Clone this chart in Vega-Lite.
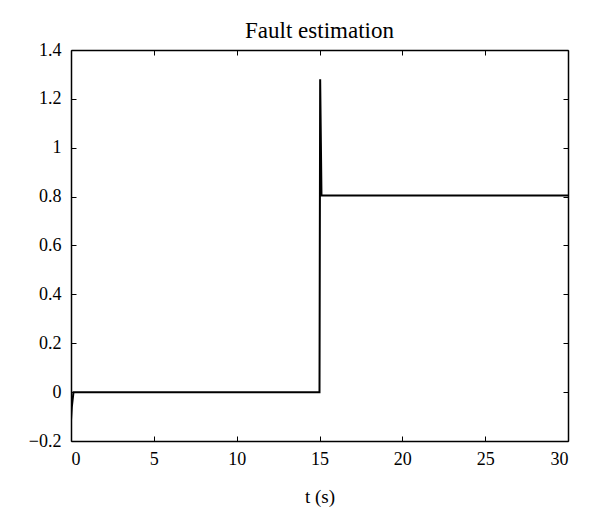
{
  "$schema": "https://vega.github.io/schema/vega-lite/v6.json",
  "width": 497,
  "height": 391,
  "autosize": "none",
  "padding": {"left": 71, "top": 50, "right": 32, "bottom": 89},
  "background": "white",
  "config": {
    "font": "Liberation Serif",
    "view": {"stroke": null}
  },
  "title": {
    "text": "Fault estimation",
    "font": "Liberation Serif",
    "fontSize": 23,
    "fontWeight": "normal",
    "color": "black",
    "offset": -2
  },
  "data": {
    "values": [
      {"t": 0, "v": -0.115},
      {"t": 0.05, "v": -0.06},
      {"t": 0.15, "v": 0},
      {"t": 15, "v": 0},
      {"t": 15.04, "v": 1.28},
      {"t": 15.12, "v": 0.805},
      {"t": 30, "v": 0.805}
    ]
  },
  "layer": [
    {
      "mark": {"type": "line", "color": "black", "strokeWidth": 2, "clip": true},
      "encoding": {
        "x": {
          "field": "t", "type": "quantitative",
          "scale": {"domain": [0, 30], "nice": false, "zero": false},
          "axis": {"orient": "bottom", "values": [0, 5, 10, 15, 20, 25, 30], "title": "t (s)",
            "grid": false, "domainColor": "black", "domainWidth": 1.5, "tickColor": "black", "tickWidth": 1, "tickSize": -5,
            "labelColor": "black", "labelFont": "Times New Roman", "labelFontSize": 18, "labelPadding": 14,
            "titleFont": "Times New Roman", "titleFontSize": 19, "titleFontWeight": "normal", "titleColor": "black", "titlePadding": 19}
        },
        "y": {
          "field": "v", "type": "quantitative",
          "scale": {"domain": [-0.2, 1.4], "nice": false, "zero": false},
          "axis": {"orient": "left", "values": [-0.2, 0, 0.2, 0.4, 0.6, 0.8, 1, 1.2, 1.4], "title": null, "format": "~g",
            "grid": false, "domainColor": "black", "domainWidth": 1.5, "tickColor": "black", "tickWidth": 1, "tickSize": -5,
            "labelColor": "black", "labelFont": "Times New Roman", "labelFontSize": 18, "labelPadding": 15}
        }
      }
    },
    {
      "mark": {"type": "line", "opacity": 0},
      "encoding": {
        "x": {
          "field": "t", "type": "quantitative",
          "scale": {"domain": [0, 30], "nice": false, "zero": false},
          "axis": {"orient": "top", "values": [0, 5, 10, 15, 20, 25, 30], "labels": false, "title": null,
            "grid": false, "domainColor": "black", "domainWidth": 1.5, "tickColor": "black", "tickWidth": 1, "tickSize": -5}
        },
        "y": {
          "field": "v", "type": "quantitative",
          "scale": {"domain": [-0.2, 1.4], "nice": false, "zero": false},
          "axis": {"orient": "right", "values": [-0.2, 0, 0.2, 0.4, 0.6, 0.8, 1, 1.2, 1.4], "labels": false, "title": null,
            "grid": false, "domainColor": "black", "domainWidth": 1.5, "tickColor": "black", "tickWidth": 1, "tickSize": -5}
        }
      }
    }
  ],
  "resolve": {"scale": {"x": "independent", "y": "independent"}}
}
